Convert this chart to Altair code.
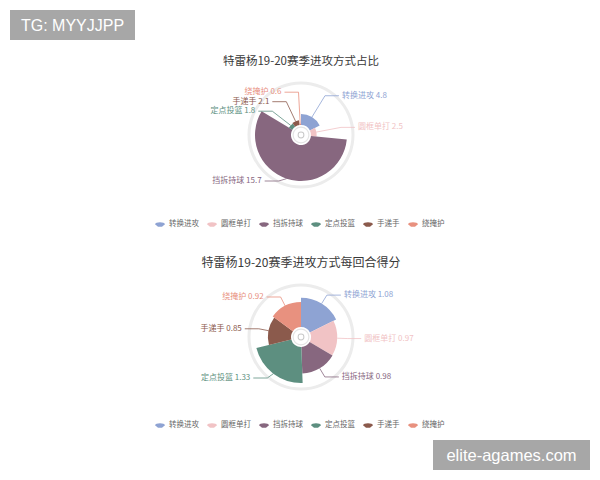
import math
import altair as alt
import pandas as pd

# ---- data ----
categories = ["转换进攻", "圆框单打", "挡拆持球", "定点投篮", "手递手", "绕掩护"]
share_values = [4.8, 2.5, 15.7, 1.8, 2.1, 0.6]          # 进攻方式占比
ppp_values = [1.08, 0.97, 0.98, 1.33, 0.85, 0.92]        # 每回合得分
palette = ["#8ea3d3", "#f1c3c5", "#87677f", "#5d8f80", "#8b5a4c", "#e8917f"]
title1 = "特雷杨19-20赛季进攻方式占比"
title2 = "特雷杨19-20赛季进攻方式每回合得分"

W, H = 584, 462
CX = 293
CY1, CY2 = 127, 329
R0, RMAX, RING = 10, 46, 52
FONT = "Noto Sans CJK SC"

legend_path = "M-1,0 C-1,-0.55 1,-0.55 1,0 L0.4,0.5 L-0.4,0.5 Z"


def pie_layout(values, cx, cy, L1, L2, ymin, ymax, gap=9.5):
    """Echarts-like outside label placement computed from the values."""
    total, vmax = sum(values), max(values)
    items, cum = [], 0.0
    for i, v in enumerate(values):
        a0 = cum / total * 2 * math.pi
        cum += v
        a1 = cum / total * 2 * math.pi
        mid = (a0 + a1) / 2
        r = R0 + (RMAX - R0) * v / vmax
        dx, dy = math.sin(mid), -math.cos(mid)
        items.append(dict(i=i, mid=mid, dx=dx,
                          x1=cx + r * dx, y1=cy + r * dy,
                          x2=cx + (r + L1) * dx, y2=cy + (r + L1) * dy))
    for side in (1, -1):
        grp = [it for it in items if (it["dx"] >= 0) == (side == 1)]
        grp.sort(key=lambda it: it["mid"] if side == 1 else -it["mid"])
        ys = [min(max(it["y2"], ymin), ymax) for it in grp]
        for _ in range(60):
            for k in range(len(ys) - 1):
                d = gap - (ys[k + 1] - ys[k])
                if d > 0:
                    ys[k] -= d / 2
                    ys[k + 1] += d / 2
            ys = [min(max(y, ymin), ymax) for y in ys]
        for it, y in zip(grp, ys):
            it["y2"] = y
            it["x3"] = it["x2"] + side * L2
            it["side"] = side
    return items


def build_pie(values, cy, L1, ymax, legend_y):
    df = pd.DataFrame({"category": categories, "value": values,
                       "order": list(range(len(categories)))})
    ring = alt.Chart(pd.DataFrame({"a": [0]})).mark_arc(
        radius=RING + 1.5, radius2=RING - 1.5, theta=0, theta2=2 * math.pi,
        color="#ececec").encode(x=alt.value(CX), y=alt.value(cy))
    arcs = alt.Chart(df).mark_arc().encode(
        x=alt.value(CX), y=alt.value(cy),
        theta=alt.Theta("value:Q", stack=True),
        radius=alt.Radius("value:Q", scale=alt.Scale(type="linear", zero=True, range=[R0, RMAX])),
        order=alt.Order("order:Q"),
        color=alt.Color("category:N", sort=categories,
                        scale=alt.Scale(domain=categories, range=palette),
                        legend=alt.Legend(orient="none", legendX=147, legendY=legend_y,
                                          direction="horizontal", title=None,
                                          symbolType=legend_path, symbolSize=100,
                                          symbolStrokeWidth=0, labelFont=FONT,
                                          labelFontSize=7.5, labelColor="#666666",
                                          labelOffset=4, columnPadding=8)),
    )
    hole = alt.Chart(pd.DataFrame({"a": [0]})).mark_arc(
        radius=8.5, radius2=7.3, theta=0, theta2=2 * math.pi,
        color="#e4e4e4").encode(x=alt.value(CX), y=alt.value(cy))
    icon = alt.Chart(pd.DataFrame({"a": [0]})).mark_arc(
        radius=3.4, radius2=2.4, theta=0, theta2=2 * math.pi,
        color="#c9c9c9").encode(x=alt.value(CX), y=alt.value(cy))

    items = pie_layout(values, CX, cy, L1, 14, cy - 60, ymax)
    line_rows, text_rows = [], []
    for it in items:
        c = categories[it["i"]]
        col = palette[it["i"]]
        for k, (px, py) in enumerate([(it["x1"], it["y1"]), (it["x2"], it["y2"]), (it["x3"], it["y2"])]):
            line_rows.append({"category": c, "k": k, "x": px, "y": py, "col": col})
        text_rows.append({"label": f"{c} {values[it['i']]}", "x": it["x3"] + it["side"] * 3,
                          "y": it["y2"], "side": it["side"], "col": col})
    ldf = pd.DataFrame(line_rows)
    tdf = pd.DataFrame(text_rows)
    lines = alt.Chart(ldf).mark_line(strokeWidth=0.8).encode(
        x=alt.X("x:Q", scale=None), y=alt.Y("y:Q", scale=None),
        detail="category:N", order="k:Q",
        color=alt.Color("col:N", scale=None))
    text_r = alt.Chart(tdf).transform_filter("datum.side > 0").mark_text(
        align="left", baseline="middle", font=FONT, fontSize=8).encode(
        x=alt.X("x:Q", scale=None), y=alt.Y("y:Q", scale=None),
        text="label:N", color=alt.Color("col:N", scale=None))
    text_l = alt.Chart(tdf).transform_filter("datum.side < 0").mark_text(
        align="right", baseline="middle", font=FONT, fontSize=8).encode(
        x=alt.X("x:Q", scale=None), y=alt.Y("y:Q", scale=None),
        text="label:N", color=alt.Color("col:N", scale=None))
    return [ring, arcs, hole, icon, lines, text_r, text_l]


one = pd.DataFrame({"a": [0]})
t1 = alt.Chart(one).mark_text(text=title1, font=FONT, fontSize=11.5, color="#3a3a3a",
                              align="center", baseline="middle").encode(
    x=alt.value(CX), y=alt.value(54))
t2 = alt.Chart(one).mark_text(text=title2, font=FONT, fontSize=12, color="#3a3a3a",
                              align="center", baseline="middle").encode(
    x=alt.value(CX), y=alt.value(255))

wm1_box = alt.Chart(one).mark_rect(color="#a7a7a7").encode(
    x=alt.value(2), x2=alt.value(127), y=alt.value(2), y2=alt.value(32))
wm1_txt = alt.Chart(one).mark_text(text="TG: MYYJJPP", font="Liberation Sans", fontSize=16,
                                   color="white", align="center", baseline="middle").encode(
    x=alt.value(64.5), y=alt.value(17.5))
wm2_box = alt.Chart(one).mark_rect(color="#a7a7a7").encode(
    x=alt.value(425), x2=alt.value(582), y=alt.value(432), y2=alt.value(462))
wm2_txt = alt.Chart(one).mark_text(text="elite-agames.com", font="Liberation Sans", fontSize=16.5,
                                   color="white", align="center", baseline="middle").encode(
    x=alt.value(503.5), y=alt.value(447.5))

layers = (build_pie(share_values, CY1, 25, CY1 + 46, 211)
          + build_pie(ppp_values, CY2, 10, CY2 + 41, 412)
          + [t1, t2, wm1_box, wm1_txt, wm2_box, wm2_txt])

chart = alt.layer(*layers).resolve_scale(
    theta="independent", radius="independent", color="independent"
).properties(
    width=W, height=H, padding=0, autosize=alt.AutoSizeParams(type="none"),
    background="white"
).configure_view(stroke=None)

chart.save("out.html", embed_options={"renderer": "svg", "actions": False})
